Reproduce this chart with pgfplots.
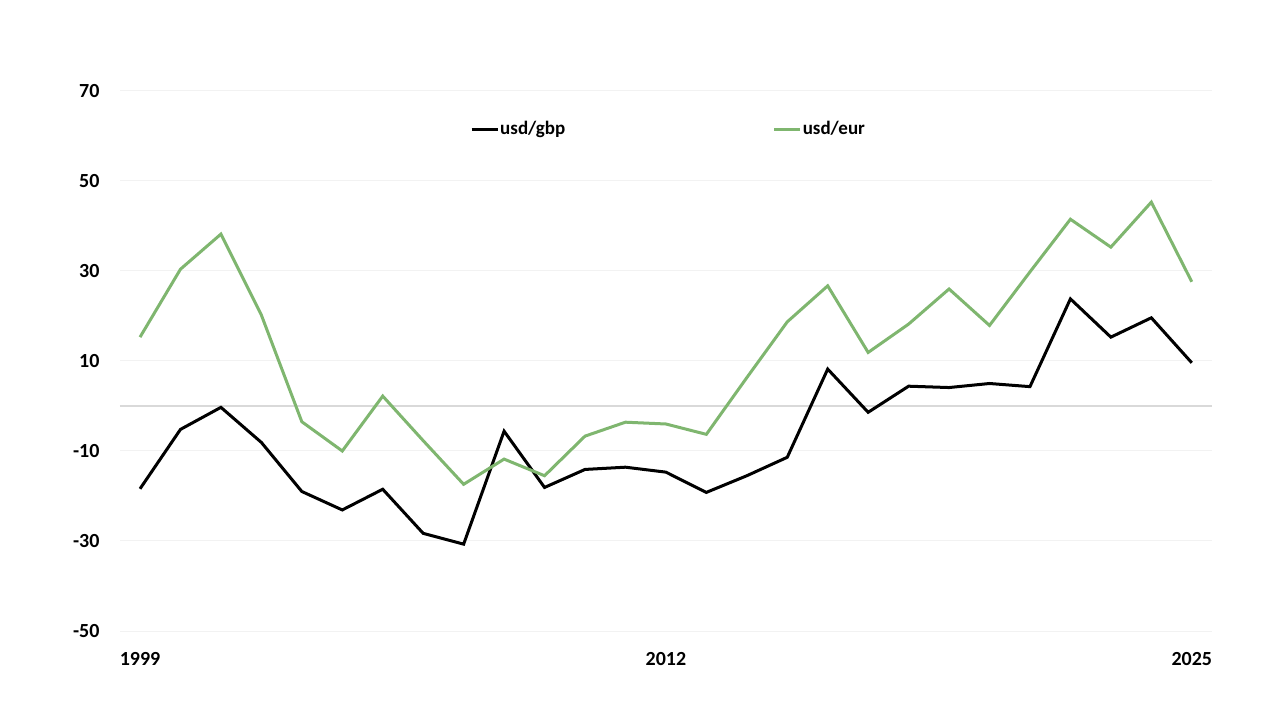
\documentclass[border=0pt]{standalone}
\usepackage{fontspec}
\setmainfont{Carlito}
\usepackage{pgfplots}
\pgfplotsset{compat=1.18}
\definecolor{eurgreen}{RGB}{127,182,111}
\definecolor{gridc}{RGB}{242,242,242}
\definecolor{zeroc}{RGB}{217,217,217}
\begin{document}
\begin{tikzpicture}
\useasboundingbox (-59.9bp,-44.5bp) rectangle (580.1bp,315.5bp);
\begin{axis}[
  at={(0,0)}, anchor=south west,
  scale only axis, width=546.1bp, height=270bp,
  xmin=1998.5, xmax=2025.5, ymin=-50, ymax=70,
  xtick={1999,2012,2025}, ytick={-50,-30,-10,10,30,50,70},
  xticklabels={1999,2012,2025},
  axis line style={draw=none},
  major tick length=0pt,
  ymajorgrids, grid style={gridc, line width=0.5bp},
  /pgf/number format/assume math mode=true,
  /pgf/number format/1000 sep={},
  ticklabel style={font=\fontsize{10bp}{12bp}\selectfont\bfseries},
  yticklabel style={inner sep=0pt, anchor=east, xshift=-10bp},
  xticklabel style={inner sep=0pt, anchor=north, yshift=-10.5bp},
  legend columns=2,
  legend style={at={(rel axis cs:0.502,0.9296)}, anchor=center, draw=none, fill=none,
    font=\fontsize{9.5bp}{11bp}\selectfont\bfseries,
    /tikz/every even column/.append style={column sep=103bp},
    nodes={inner sep=0.6bp}},
  legend image code/.code={\draw[#1] (0bp,0bp) -- (13bp,0bp);},
  clip=false,
]
\addplot[zeroc, line width=0.6bp, forget plot] coordinates {(1998.5,0) (2025.5,0)};
\addplot[black, line width=1.5bp] coordinates {
(1999,-18.4) (2000,-5.2) (2001,-0.3) (2002,-8.1) (2003,-19.0) (2004,-23.1)
(2005,-18.5) (2006,-28.3) (2007,-30.7) (2008,-5.6) (2009,-18.1) (2010,-14.1)
(2011,-13.6) (2012,-14.7) (2013,-19.2) (2014,-15.5) (2015,-11.4) (2016,8.2)
(2017,-1.4) (2018,4.4) (2019,4.1) (2020,5.0) (2021,4.3) (2022,23.8)
(2023,15.3) (2024,19.6) (2025,9.6)};
\addlegendentry{usd/gbp}
\addplot[eurgreen, line width=1.5bp] coordinates {
(1999,15.3) (2000,30.4) (2001,38.2) (2002,20.2) (2003,-3.5) (2004,-10.0)
(2005,2.2) (2006,-7.7) (2007,-17.4) (2008,-11.8) (2009,-15.5) (2010,-6.7)
(2011,-3.6) (2012,-4.0) (2013,-6.3) (2014,6.3) (2015,18.7) (2016,26.7)
(2017,11.9) (2018,18.2) (2019,26.0) (2020,17.9) (2021,29.8) (2022,41.5)
(2023,35.3) (2024,45.3) (2025,27.6)};
\addlegendentry{usd/eur}
\end{axis}
\end{tikzpicture}
\end{document}
